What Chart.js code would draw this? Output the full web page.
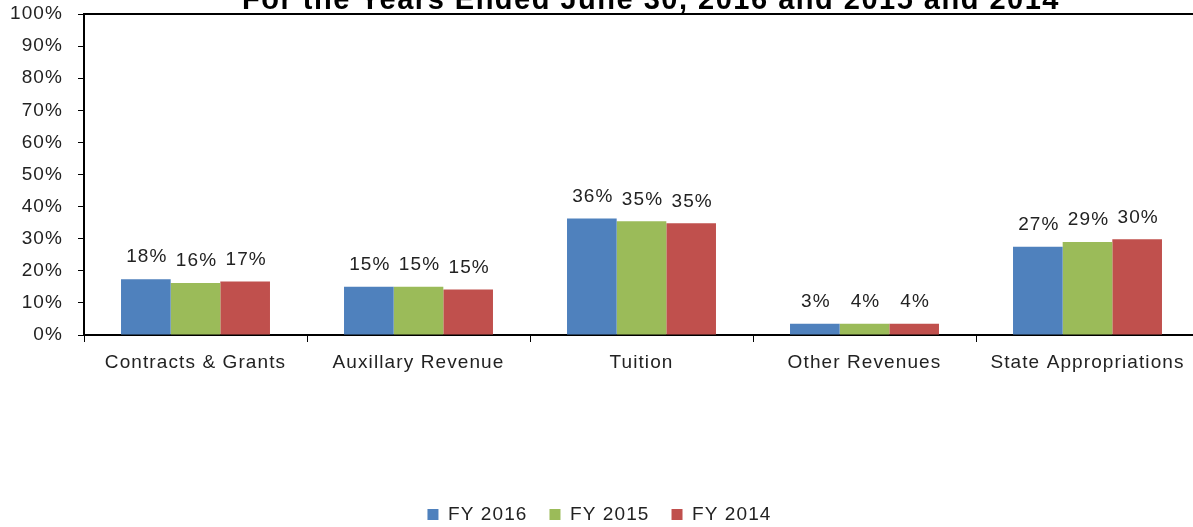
<!DOCTYPE html>
<html>
<head>
<meta charset="utf-8">
<script src="https://cdn.jsdelivr.net/npm/chart.js@4.4.0/dist/chart.umd.min.js"></script>
<style>
    body { margin: 0; overflow: hidden; background: #fff; }
    #wrap { position: relative; width: 1200px; height: 527px; }
</style>
</head>
<body>
<div id="wrap"><canvas id="myChart"></canvas></div>
<script>
    const titleText = 'For the Years Ended June 30, 2016 and 2015 and 2014';
    const categories = ['Contracts & Grants', 'Auxillary Revenue', 'Tuition', 'Other Revenues', 'State Appropriations'];
    const seriesNames = ['FY 2016', 'FY 2015', 'FY 2014'];
    // bar heights (percent)
    const fy2016 = [17.4, 15.0, 36.3, 3.5, 27.5];
    const fy2015 = [16.2, 15.0, 35.4, 3.5, 29.0];
    const fy2014 = [16.7, 14.2, 34.8, 3.5, 29.8];
    // the labels printed above the bars
    const fy2016Labels = ['18%', '15%', '36%', '3%', '27%'];
    const fy2015Labels = ['16%', '15%', '35%', '4%', '29%'];
    const fy2014Labels = ['17%', '15%', '35%', '4%', '30%'];
    const yTicks = [0, 10, 20, 30, 40, 50, 60, 70, 80, 90, 100];

    const font = { family: '"Liberation Sans", Arial, sans-serif', size: 19 };
    const textColor = '#222';
    const spacing = '1.1px';
    const plotTop = 14;
    const plotBottom = 335;
    const padBottom = -7;

    // canvas state is reset on resize, so set spacing before each layout
    const spacingPlugin = {
        id: 'spacing',
        beforeUpdate: chart => { chart.ctx.letterSpacing = spacing; },
        beforeDraw: chart => { chart.ctx.letterSpacing = spacing; }
    };

    // top border of the plot and the cut-off title
    const framePlugin = {
        id: 'frame',
        afterDraw: chart => {
            const ctx = chart.ctx;
            const area = chart.chartArea;
            ctx.save();
            ctx.strokeStyle = '#000';
            ctx.lineWidth = 2;
            ctx.beginPath();
            ctx.moveTo(area.left - 1, area.top);
            ctx.lineTo(area.right, area.top);
            ctx.stroke();
            ctx.fillStyle = '#000';
            ctx.font = 'bold 29px "Liberation Sans", Arial, sans-serif';
            ctx.letterSpacing = '1.5px';
            ctx.textAlign = 'center';
            ctx.textBaseline = 'alphabetic';
            ctx.fillText(titleText, 651, 9);
            ctx.restore();
        }
    };

    // value labels above each bar
    const labelPlugin = {
        id: 'barLabels',
        afterDatasetsDraw: chart => {
            const ctx = chart.ctx;
            ctx.save();
            ctx.font = `${font.size}px ${font.family}`;
            ctx.letterSpacing = spacing;
            ctx.fillStyle = textColor;
            ctx.textAlign = 'center';
            ctx.textBaseline = 'middle';
            chart.data.datasets.forEach((ds, i) => {
                chart.getDatasetMeta(i).data.forEach((bar, j) => {
                    ctx.fillText(ds.valueLabels[j], bar.x + 1, bar.y - 22);
                });
            });
            ctx.restore();
        }
    };

    const ctx = document.getElementById('myChart').getContext('2d');
    const myChart = new Chart(ctx, {
        type: 'bar',
        data: {
            labels: categories,
            datasets: [
                { label: seriesNames[0], data: fy2016, valueLabels: fy2016Labels, backgroundColor: '#4f81bd' },
                { label: seriesNames[1], data: fy2015, valueLabels: fy2015Labels, backgroundColor: '#9bbb59' },
                { label: seriesNames[2], data: fy2014, valueLabels: fy2014Labels, backgroundColor: '#c0504d' }
            ]
        },
        options: {
            responsive: true,
            maintainAspectRatio: false,
            animation: false,
            layout: { padding: { top: 0, right: 1, bottom: padBottom, left: 0 } },
            datasets: {
                bar: { barPercentage: 1, categoryPercentage: 0.668, borderWidth: 0 }
            },
            scales: {
                x: {
                    grid: { offset: true, drawOnChartArea: false, color: '#000', tickLength: 7, lineWidth: 1 },
                    border: { color: '#000', width: 2 },
                    ticks: { font: font, color: textColor, padding: 9, maxRotation: 0 },
                    afterFit: s => {
                        const legendH = s.chart.legend ? s.chart.legend.height : 57;
                        s.height = s.chart.height - padBottom - plotBottom - legendH;
                    }
                },
                y: {
                    min: 0,
                    max: 100,
                    afterBuildTicks: s => { s.ticks = yTicks.map(v => ({ value: v })); },
                    grid: { drawOnChartArea: false, color: '#000', tickLength: 6 },
                    border: { color: '#000', width: 2 },
                    ticks: { font: font, color: textColor, padding: 15, callback: v => v + '%' },
                    afterFit: s => {
                        s.width = 84;
                        s.paddingTop = plotTop;
                        s.paddingBottom = 0;
                    }
                }
            },
            plugins: {
                legend: {
                    position: 'bottom',
                    labels: {
                        font: font,
                        color: textColor,
                        boxWidth: 11,
                        boxHeight: 11,
                        padding: 22
                    }
                },
                tooltip: { enabled: false }
            }
        },
        plugins: [spacingPlugin, framePlugin, labelPlugin]
    });
</script>
</body>
</html>
